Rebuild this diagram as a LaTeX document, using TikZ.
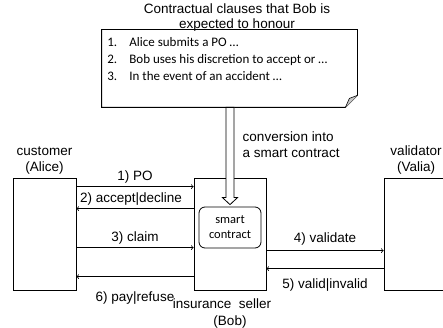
\documentclass[tikz,border=0pt]{standalone}
\usepackage{fontspec}
\setmainfont{Liberation Sans}
\newfontfamily\calibri{Carlito}
\usetikzlibrary{positioning,calc}

\begin{document}
\begin{tikzpicture}[x=1pt,y=-1pt,line width=0.8pt,
        font=\fontsize{13.5}{16}\selectfont,
        party/.style={draw,minimum width=63pt,minimum height=112pt,inner sep=0pt},
        msg/.style={->},
        clause/.style={font=\calibri\fontsize{13}{17}\selectfont}]

        \useasboundingbox (0,0) rectangle (443,328);
        \clip (0,0) rectangle (443,328);

        % Title above the note
        \node[align=center,font=\fontsize{13.5}{15}\selectfont] (title) at (237,17.5) {Contractual clauses that Bob is\\expected to honour};

        % The note with a folded corner
        \node[minimum width=255pt,minimum height=77pt,inner sep=0pt] (note) at (229.5,68.5) {};
        \draw (note.north west) -- (note.north east) -- ([yshift=12pt]note.south east)
            -- ([xshift=-12pt]note.south east) -- (note.south west) -- cycle;
        \draw[fill=gray!45,line width=0.6pt] ([xshift=-12pt]note.south east)
            -- ($(note.south east)+(-8,-9)$) -- ([yshift=12pt]note.south east);

        % Clauses
        \node[clause,anchor=north west,align=left,inner sep=0pt] (clauses) at (107,37)
            {\makebox[22pt][l]{1.}Alice submits a PO …\\
             \makebox[22pt][l]{2.}Bob uses his discretion to accept or …\\
             \makebox[22pt][l]{3.}In the event of an accident …};

        % The three parties
        \node[party] (alice) at (44.5,234) {};
        \node[party,minimum width=72pt] (bob) at (230,234) {};
        \node[party,minimum width=72pt] (valia) at (420,234) {};

        \node[align=center,above=0pt of alice,font=\fontsize{13.5}{15.5}\selectfont] (alicelbl) {customer\\(Alice)};
        \node[align=center,above=0pt of valia,xshift=-4pt,font=\fontsize{13.5}{15.5}\selectfont] (valialbl) {validator\\(Valia)};
        \node[align=center,below=5pt of bob,font=\fontsize{13.5}{17}\selectfont] (boblbl) {insurance\ \ seller\hspace*{16pt}\\(Bob)};

        % Smart contract inside the seller
        \node[draw,rounded corners=6pt,minimum width=62pt,minimum height=41pt,inner sep=0pt,
            align=center,font=\calibri\fontsize{12.5}{15}\selectfont] (sc) at (230,227.5) {smart\\contract};

        % Hollow arrow: conversion of the clauses
        \coordinate (tip) at ([yshift=2pt]sc.north);
        \draw[fill=white] (tip) -- ($(tip)+(-7.5,-7)$) -- ($(tip)+(-4,-7)$)
            -- ($(tip |- note.south)+(-4,0)$) -- ($(tip |- note.south)+(4,0)$)
            -- ($(tip)+(4,-7)$) -- ($(tip)+(7.5,-7)$) -- cycle;
        \node[align=left,anchor=west] (convlbl) at (239,145) {conversion into\\a smart contract};

        % Messages between customer and seller
        \draw[msg] ([yshift=-9pt]alice.north east) -- node[above] {1) PO} ([yshift=-9pt]bob.north west);
        \draw[msg] ([yshift=-31pt]bob.north west) -- node[above,xshift=-4pt] {2) accept|decline} ([yshift=-31pt]alice.north east);
        \draw[msg] ([yshift=-70pt]alice.north east) -- node[above] {3) claim} ([yshift=-70pt]bob.north west);
        \draw[msg] ([yshift=-99pt]bob.north west) -- node[below=11pt] {6) pay|refuse} ([yshift=-99pt]alice.north east);

        % Messages between seller and validator
        \draw[msg] ([yshift=-73pt]bob.north east) -- node[above=2pt] {4) validate} ([yshift=-73pt]valia.north west);
        \draw[msg] ([yshift=-91pt]valia.north west) -- node[below=6pt] {5) valid|invalid} ([yshift=-91pt]bob.north east);

\end{tikzpicture}
\end{document}
